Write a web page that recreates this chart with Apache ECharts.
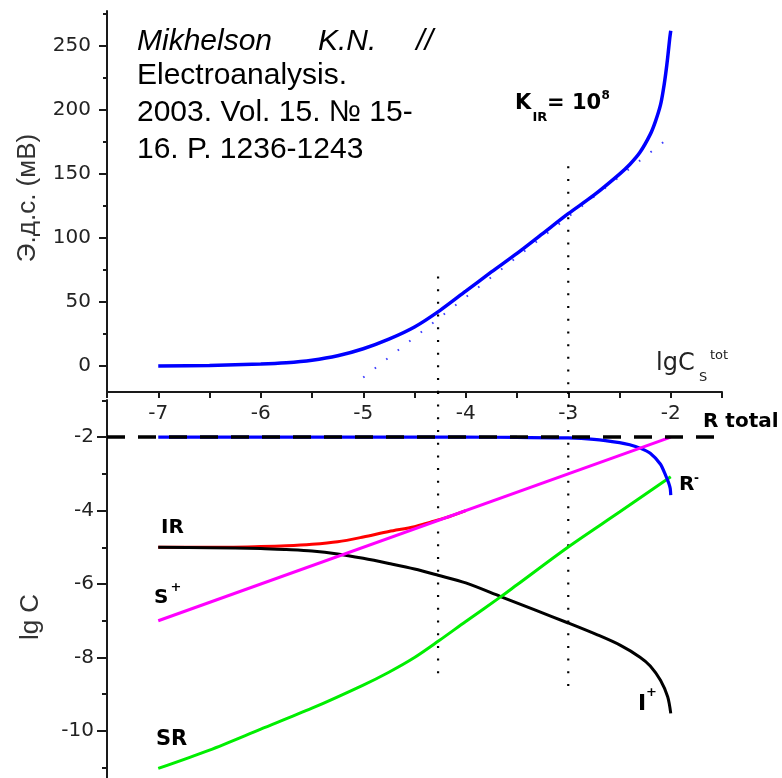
<!DOCTYPE html>
<html>
<head>
<meta charset="utf-8">
<script src="https://cdn.jsdelivr.net/npm/echarts@6/dist/echarts.min.js"></script>
<style>
html,body{margin:0;padding:0;background:#fff;}
#c{width:782px;height:778px;}
</style>
</head>
<body>
<div id="c"></div>
<script>
// ---- data ----
const xTickLabels = [-7, -6, -5, -4, -3, -2];
const emfTicks = [0, 50, 100, 150, 200, 250];
const emfMinorTicks = [25, 75, 125, 175, 225, 275];
const lgTicks = [-2, -4, -6, -8, -10];
const lgMinorTicks = [-1, -3, -5, -7, -9, -11];

// top panel: e.m.f. (mV) vs lgC_S^tot
const emfX = [-7, -6.5, -6, -5.75, -5.5, -5.25, -5, -4.75, -4.5, -4.25, -4, -3.75, -3.5, -3.25, -3, -2.75, -2.5, -2.4, -2.3, -2.2, -2.15, -2.1, -2.07, -2.05, -2.03, -2.01, -2.0];
const emfY = [0, 0.5, 1.5, 2.5, 4.5, 8, 13.5, 21, 30.5, 43.5, 58.5, 73.5, 88, 103.5, 119, 133.5, 150, 157.5, 167, 181, 191, 204, 217, 228, 241, 256, 262];
const tangentX = [-5, -2.07];
const tangentY = [-9, 175];

// bottom panel: lg C
const rTotalX = [-7.5, -1.5];
const rTotalY = [-2, -2];
const rMinusX = [-7, -5, -4, -3.5, -3, -2.75, -2.5, -2.4, -2.3, -2.2, -2.1, -2.05, -2.02, -2.005, -2.0];
const rMinusY = [-2, -2, -2, -2.01, -2.02, -2.06, -2.15, -2.21, -2.3, -2.44, -2.74, -3.04, -3.25, -3.4, -3.58];
const sPlusX = [-7, -2];
const sPlusY = [-7, -2];
const irX = [-7, -6.5, -6, -5.75, -5.5, -5.25, -5, -4.75, -4.5, -4.35, -4.2, -4.0];
const irY = [-5, -5, -4.98, -4.96, -4.92, -4.85, -4.72, -4.57, -4.44, -4.32, -4.2, -4.0];
const iPlusX = [-7, -6.5, -6, -5.75, -5.5, -5.25, -5, -4.75, -4.5, -4.27, -4, -3.66, -3.32, -3, -2.71, -2.49, -2.3, -2.2, -2.1, -2.03, -2.0];
const iPlusY = [-5, -5.01, -5.03, -5.06, -5.1, -5.18, -5.3, -5.44, -5.59, -5.76, -5.97, -6.34, -6.71, -7.06, -7.39, -7.67, -7.99, -8.23, -8.62, -9.07, -9.52];
const srX = [-7, -6.5, -6, -5.5, -5, -4.75, -4.5, -4.27, -4, -3.66, -3.5, -3, -2.5, -2];
const srY = [-11.02, -10.52, -9.95, -9.38, -8.75, -8.4, -8.0, -7.56, -7.02, -6.35, -6.02, -4.99, -4.04, -3.08];

// vertical dotted markers
const markerX = [-4.27, -3.0];
const markerTopEmf = [70, 156];
const markerBottomLg = [-8.7, -8.8];

// ---- helpers ----
const pts = (xs, ys) => xs.map((x, i) => [x, ys[i]]);
const FONT = 'DejaVu Sans';
const AX = '#1a1a1a';

const emfMin = -20.3, emfMax = 277.4;
const lgMin = -11.28, lgMax = -0.99;
const xMin = -7.5, xMax = -1.5;

const chart = echarts.init(document.getElementById('c'), null, {renderer: 'canvas'});

const series = [];
function line(name, xi, yi, xs, ys, color, width, type, extra) {
  series.push(Object.assign({
    name, type: 'line', xAxisIndex: xi, yAxisIndex: yi,
    data: pts(xs, ys), showSymbol: false, symbol: 'none',
    smooth: 0.3,
    lineStyle: {color, width, type: type || 'solid', cap: 'butt'},
    animation: false, silent: true
  }, extra || {}));
}

// top panel
line('tangent', 0, 0, tangentX, tangentY, '#3a3aff', 2, [1.6, 13], {smooth: false});
line('emf', 0, 0, emfX, emfY, '#0000ff', 3.5);
markerX.forEach((mx, i) => {
  line('mt' + i, 0, 0, [mx, mx], [markerTopEmf[i], emfMin], '#000', 2.2, [2, 10.7], {smooth: false});
  line('mb' + i, 1, 2, [mx, mx], [-0.77, markerBottomLg[i]], '#000', 2.2, [2, 10.7], {smooth: false, clip: false});
});

// bottom panel
line('IR', 1, 2, irX, irY, '#ff0000', 3);
line('I+', 1, 2, iPlusX, iPlusY, '#000000', 3);
line('SR', 1, 2, srX, srY, '#00ee00', 3);
line('R-', 1, 2, rMinusX, rMinusY, '#0000ff', 3.2, 'solid', {smooth: 0.2});
line('S+', 1, 2, sPlusX, sPlusY, '#ff00ff', 3, 'solid', {smooth: false});
line('Rtotal', 1, 2, rTotalX, rTotalY, '#000000', 3.5, [18, 13], {smooth: false});

const labelStyle = {fontFamily: FONT, fontSize: 20, color: '#222'};

const option = {
  backgroundColor: '#ffffff',
  animation: false,
  grid: [
    {left: 107, top: 11, width: 615, height: 381, containLabel: false},
    {left: 107, top: 400, width: 615, height: 378, containLabel: false}
  ],
  xAxis: [
    {
      gridIndex: 0, type: 'value', min: xMin, max: xMax, interval: 0.5, position: 'bottom',
      axisLine: {show: true, onZero: false, lineStyle: {color: AX, width: 2}},
      axisTick: {show: true, inside: false, length: 6, lineStyle: {color: AX, width: 2}},
      axisLabel: {
        show: true, margin: 12, ...labelStyle,
        customValues: xTickLabels,
        formatter: v => String(v)
      },
      splitLine: {show: false}
    },
    {
      gridIndex: 1, type: 'value', min: xMin, max: xMax, show: false,
      splitLine: {show: false}
    }
  ],
  yAxis: [
    {
      gridIndex: 0, type: 'value', min: emfMin, max: emfMax, position: 'left',
      axisLine: {show: true, onZero: false, lineStyle: {color: AX, width: 2}},
      axisTick: {show: true, length: 8, customValues: emfTicks, lineStyle: {color: AX, width: 2}},
      axisLabel: {show: true, margin: 16, ...labelStyle, customValues: emfTicks},
      splitLine: {show: false}
    },
    {
      gridIndex: 0, type: 'value', min: emfMin, max: emfMax, position: 'left', offset: 0,
      axisLine: {show: false},
      axisTick: {show: true, length: 4, customValues: emfMinorTicks, lineStyle: {color: AX, width: 2}},
      axisLabel: {show: false},
      splitLine: {show: false}
    },
    {
      gridIndex: 1, type: 'value', min: lgMin, max: lgMax, position: 'left',
      axisLine: {show: true, onZero: false, lineStyle: {color: AX, width: 2}},
      axisTick: {show: true, length: 10, customValues: lgTicks, lineStyle: {color: AX, width: 2}},
      axisLabel: {show: true, margin: 13, ...labelStyle, customValues: lgTicks},
      splitLine: {show: false}
    },
    {
      gridIndex: 1, type: 'value', min: lgMin, max: lgMax, position: 'left', offset: 0,
      axisLine: {show: false},
      axisTick: {show: true, length: 5, customValues: lgMinorTicks, lineStyle: {color: AX, width: 2}},
      axisLabel: {show: false},
      splitLine: {show: false}
    }
  ],
  series: series,
  graphic: []
};

function txt(text, x, y, size, opts) {
  opts = opts || {};
  option.graphic.push({
    type: 'text', x: x, y: y, rotation: opts.rotation || 0, silent: true, z: 100,
    style: {
      text: text,
      fontFamily: opts.family || FONT,
      fontSize: size,
      fontWeight: opts.weight || 'normal',
      fontStyle: opts.style || 'normal',
      fill: opts.color || '#000',
      align: opts.align || 'left',
      verticalAlign: 'middle',
      textAlign: opts.align || 'left',
      textVerticalAlign: 'middle'
    }
  });
}

// citation
const CF = 'Liberation Sans';
txt('Mikhelson', 137, 42, 30, {family: CF, style: 'italic'});
txt('K.N.', 318, 42, 30, {family: CF, style: 'italic'});
txt('//', 433, 42, 30, {family: CF, style: 'italic', align: 'right'});
txt('Electroanalysis.', 137, 76, 30, {family: CF});
txt('2003. Vol. 15. № 15-', 137, 113, 30, {family: CF});
txt('16. P. 1236-1243', 137, 150, 30, {family: CF});

// axis titles
txt('Э.д.с. (мВ)', 28, 198, 26, {family: CF, color: '#333', rotation: Math.PI / 2, align: 'center'});
txt('lg C', 31, 617, 26, {family: CF, color: '#333', rotation: Math.PI / 2, align: 'center'});

// K_IR = 10^8
txt('K', 515, 103.5, 21, {weight: 'bold'});
txt('IR', 532.5, 118, 13, {weight: 'bold'});
txt('= 10', 547, 103.5, 21, {weight: 'bold'});
txt('8', 601.5, 96, 12, {weight: 'bold'});

// lgC_S^tot
txt('lgC', 656, 364, 24, {color: '#222'});
txt('S', 699, 378, 13, {color: '#222'});
txt('tot', 710, 356, 13, {color: '#222'});

// curve labels
txt('R total', 703, 421.5, 20, {weight: 'bold'});
txt('R', 679, 484.5, 20, {weight: 'bold'});
txt('-', 694, 479, 12, {weight: 'bold'});
txt('IR', 161, 527.5, 20, {weight: 'bold'});
txt('S', 154, 598, 20, {weight: 'bold'});
txt('+', 170.5, 588, 13, {weight: 'bold'});
txt('SR', 156, 740, 21, {weight: 'bold'});
txt('I', 638, 704, 22, {weight: 'bold'});
txt('+', 646, 692.5, 13, {weight: 'bold'});

chart.setOption(option);
</script>
</body>
</html>
